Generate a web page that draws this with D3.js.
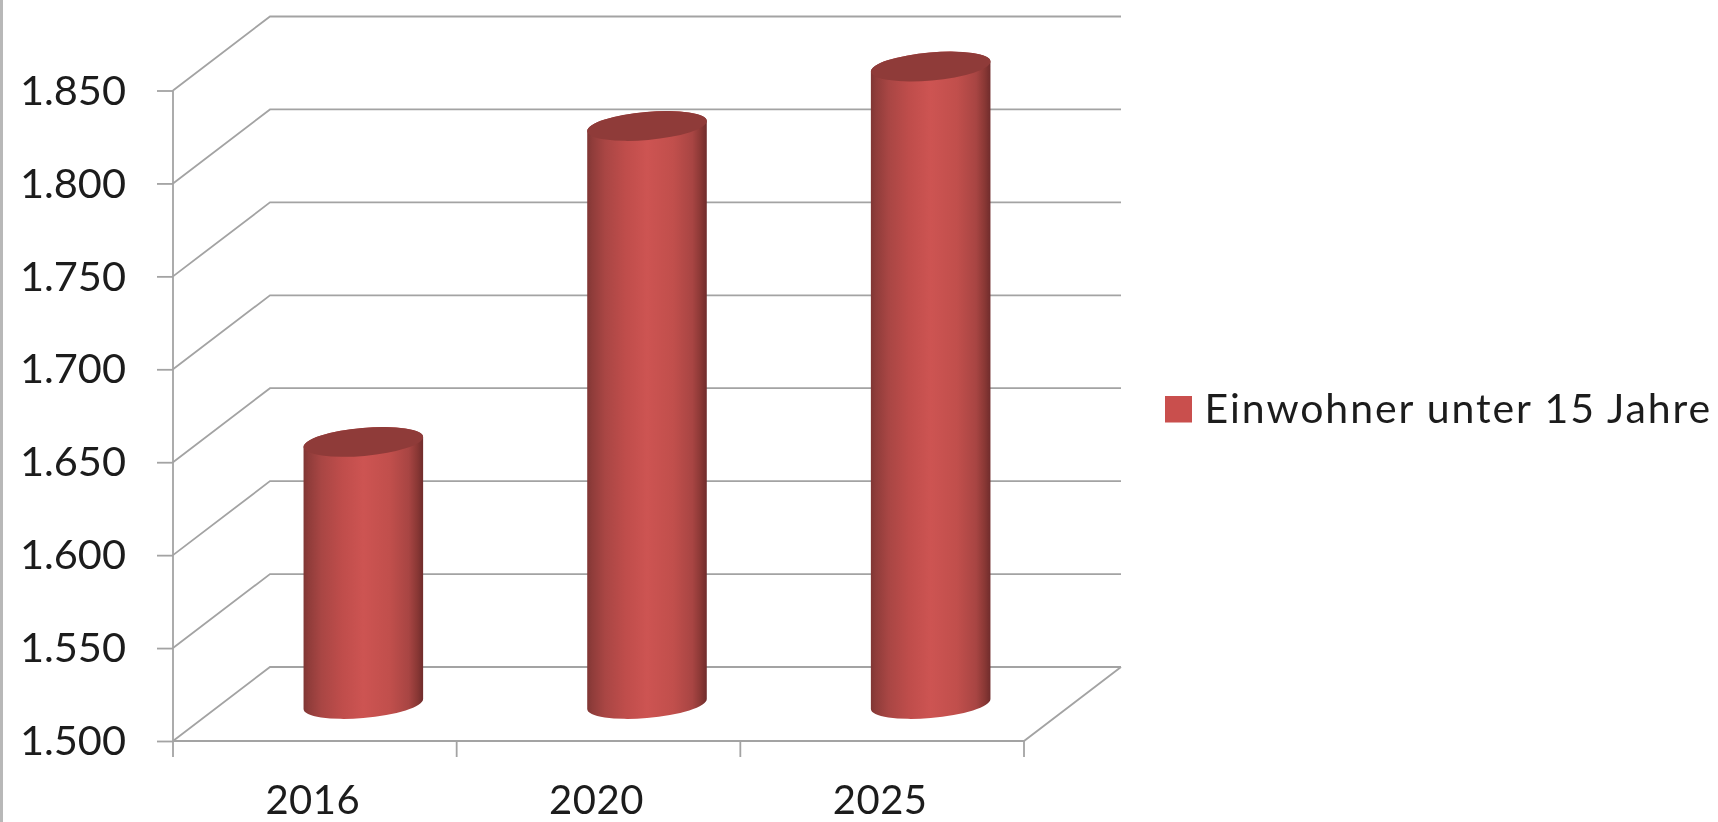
<!DOCTYPE html>
<html>
<head>
<meta charset="utf-8">
<script src="https://cdnjs.cloudflare.com/ajax/libs/d3/7.8.5/d3.min.js"></script>
<style>
  html, body { margin: 0; padding: 0; background: #fff; overflow: hidden; }
  svg { display: block; filter: blur(0.6px); }
  text { font-family: Lato, "Open Sans", sans-serif; fill: #1c1c1c; }
</style>
</head>
<body>
<svg id="chart" width="1718" height="822"></svg>
<script>
const years = ["2016", "2020", "2025"];
const residents = [1641, 1811, 1843];
const yTicks = [1500, 1550, 1600, 1650, 1700, 1750, 1800, 1850];
const seriesName = "Einwohner unter 15 Jahre";

const svg = d3.select("#chart");
const plotLeft = 173, plotRight = 1024, plotTop = 90.5, plotBottom = 741;
const depthX = 97, depthY = -74;
const gridColor = "#a3a3a3";
const gridWidth = 1.8;

const x = d3.scaleBand().domain(years).range([plotLeft, plotRight]);
const y = d3.scaleLinear().domain([1500, 1850]).range([plotBottom, plotTop]);

// page edge on the left
svg.append("rect").attr("width", 3).attr("height", 822).attr("fill", "#b8b8b8");

const defs = svg.append("defs");
const grad = defs.append("linearGradient").attr("id", "cyl");
[[0, "#803634"], [0.04, "#8f3c3a"], [0.15, "#a94644"], [0.32, "#bf4d4b"], [0.5, "#cd5452"],
 [0.72, "#c14f4c"], [0.88, "#a84543"], [0.95, "#8a3835"], [1, "#702c2c"]]
  .forEach(s => grad.append("stop").attr("offset", s[0]).attr("stop-color", s[1]));

// back wall and side lines
const grid = svg.append("g").attr("fill", "none").attr("stroke", gridColor).attr("stroke-width", gridWidth);
grid.selectAll("path.wall").data(yTicks).join("path").attr("class", "wall")
  .attr("d", d => d3.line()([[plotLeft, y(d)], [plotLeft + depthX, y(d) + depthY], [plotRight + depthX, y(d) + depthY]]));
grid.append("path")
  .attr("d", d3.line()([[plotLeft, plotBottom], [plotRight, plotBottom], [plotRight + depthX, plotBottom + depthY]]));

// axes
const yAxis = d3.axisLeft(y).tickValues(yTicks).tickSize(16).tickPadding(31)
  .tickFormat(d => d3.format(".3f")(d / 1000));
const gy = svg.append("g").attr("transform", `translate(${plotLeft},0)`).call(yAxis);
gy.select(".domain").remove();
gy.selectAll("text").attr("font-size", 41.5).attr("dy", "0.33em");
gy.selectAll("line").attr("stroke", gridColor).attr("stroke-width", gridWidth);

const xTickPos = [plotLeft].concat(years.map(d => x(d) + x.bandwidth()));
const gx = svg.append("g").attr("transform", `translate(0,${plotBottom})`);
gx.selectAll("line").data(xTickPos).join("line")
  .attr("x1", d => d).attr("x2", d => d).attr("y1", 0).attr("y2", 16)
  .attr("stroke", gridColor).attr("stroke-width", gridWidth);
gx.selectAll("text").data(years).join("text")
  .attr("x", d => x(d) + x.bandwidth() / 2 - 2)
  .attr("y", 73)
  .attr("text-anchor", "middle")
  .attr("font-size", 40)
  .attr("letter-spacing", 0.5)
  .text(d => d);
svg.append("line").attr("x1", plotLeft).attr("x2", plotLeft).attr("y1", plotTop).attr("y2", plotBottom)
  .attr("stroke", gridColor).attr("stroke-width", gridWidth);

// cylinders, side edges sit where the tilted ellipse has its vertical tangents
const rx = 60, ry = 14, tilt = -5;
const rad = tilt * Math.PI / 180;
const edgeX = Math.sqrt(rx * rx * Math.cos(rad) ** 2 + ry * ry * Math.sin(rad) ** 2);
const edgeY = (rx * rx - ry * ry) * Math.abs(Math.sin(rad) * Math.cos(rad)) / edgeX;
const bars = svg.append("g").selectAll("g").data(years).join("g")
  .attr("transform", d => `translate(${x(d) + x.bandwidth() / 2 + depthX / 2},0)`);
const base = y(1500) + depthY / 2;
bars.append("path")
  .attr("fill", "url(#cyl)")
  .attr("d", (d, i) => {
    const t = y(residents[i]) + depthY / 2;
    return `M${-edgeX},${t + edgeY}L${-edgeX},${base + edgeY}` +
      `A${rx},${ry} ${tilt} 0 0 ${edgeX},${base - edgeY}` +
      `L${edgeX},${t - edgeY}` +
      `A${rx},${ry} ${tilt} 0 0 ${-edgeX},${t + edgeY}Z`;
  });
bars.append("ellipse")
  .attr("rx", rx).attr("ry", ry).attr("fill", "#8f3b39")
  .attr("transform", (d, i) => `translate(0,${y(residents[i]) + depthY / 2}) rotate(${tilt})`);

// legend
const legend = svg.append("g").attr("transform", "translate(1165,396)");
legend.append("rect").attr("width", 27).attr("height", 26.5).attr("fill", "#c94f4d");
legend.append("text").attr("x", 39.5).attr("y", 27).attr("font-size", 41)
  .attr("letter-spacing", 1.9).text(seriesName);
</script>
</body>
</html>
